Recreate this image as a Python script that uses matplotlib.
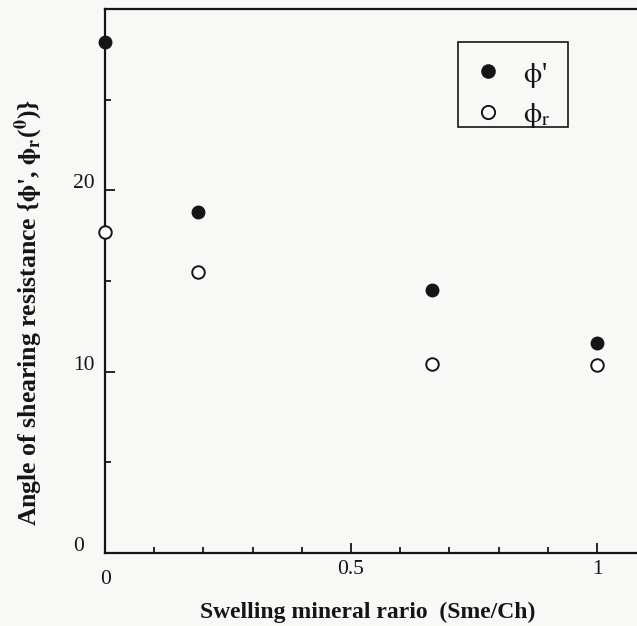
import matplotlib
matplotlib.use("Agg")
import matplotlib.pyplot as plt
from matplotlib.lines import Line2D
from matplotlib.patches import Rectangle
from matplotlib.ticker import MultipleLocator, FixedLocator
import matplotlib.transforms as mtransforms

# ---- data ----
ratio = [0.0, 0.19, 0.665, 1.0]          # Swelling mineral ratio (Sme/Ch)
phi_peak = [28.2, 18.8, 14.5, 11.6]       # phi'  (filled)
phi_res = [17.7, 15.5, 10.4, 10.35]       # phi_r (open)
x_tick_vals = [0, 0.5, 1]
x_tick_labels = ["0", "0.5", "1"]
y_tick_vals = [0, 10, 20]
y_tick_labels = ["0", "10", "20"]
legend_labels = [r"$\mathrm{\phi}$'", r"$\mathrm{\phi}_{\mathrm{r}}$"]
xlabel = "Swelling mineral rario  (Sme/Ch)"
ylabel = (r"Angle of shearing resistance {$\mathbf{\phi}$', "
          r"$\mathbf{\phi}_{\mathbf{r}}$($^{\mathbf{0}}$)}")

plt.rcParams["font.family"] = ["Liberation Serif", "DejaVu Serif"]
plt.rcParams["mathtext.fontset"] = "stix"

W, H, DPI = 637, 626, 100
bg = "#f8f8f6"
ink = "#151515"
fig = plt.figure(figsize=(W / DPI, H / DPI), dpi=DPI, facecolor=bg)

ax_l, ax_r, ax_t, ax_b = 105, 637, 9, 553
ax = fig.add_axes([ax_l / W, 1 - ax_b / H, (ax_r - ax_l) / W, (ax_b - ax_t) / H])
ax.set_facecolor("none")

ax.plot(ratio, phi_peak, linestyle="none", marker="o", ms=9, mfc=ink, mec=ink,
        mew=1.0, clip_on=False, zorder=3)
ax.plot(ratio, phi_res, linestyle="none", marker="o", ms=9, mfc="white", mec=ink,
        mew=1.4, clip_on=False, zorder=3)

ax.set_xlim(0, (ax_r - ax_l) / 492.0)
ax.set_ylim(0, 30)

for s in ["left", "bottom", "top"]:
    ax.spines[s].set_linewidth(1.6)
    ax.spines[s].set_color(ink)
ax.spines["right"].set_visible(False)

ax.xaxis.set_major_locator(FixedLocator(x_tick_vals))
ax.set_xticklabels(x_tick_labels)
ax.xaxis.set_minor_locator(MultipleLocator(0.1))
ax.yaxis.set_major_locator(FixedLocator(y_tick_vals))
ax.set_yticklabels(y_tick_labels)
ax.yaxis.set_minor_locator(MultipleLocator(5))

ax.tick_params(axis="both", which="major", direction="in", length=7, width=1.3,
               labelsize=15.5, colors=ink)
ax.tick_params(axis="both", which="minor", direction="in", length=4, width=1.3,
               colors=ink)
ax.tick_params(axis="x", which="major", pad=5)
ax.tick_params(axis="y", which="major", pad=32 * 72 / DPI)
ax.tick_params(top=False, right=False, which="both")

# y tick labels: left-aligned, sitting a little above their ticks
up = mtransforms.ScaledTranslation(0, 9 / DPI, fig.dpi_scale_trans)
for lab in ax.get_yticklabels():
    lab.set_horizontalalignment("left")
    lab.set_transform(lab.get_transform() + up)
# x "0" label lowered to clear the y "0"
down = mtransforms.ScaledTranslation(1 / DPI, -10 / DPI, fig.dpi_scale_trans)
ax.get_xticklabels()[0].set_transform(ax.get_xticklabels()[0].get_transform() + down)

fig.text(368 / W, 1 - 612 / H, xlabel, ha="center", va="center",
         fontsize=17, fontweight="bold", color=ink)
fig.text(29 / W, 1 - 312 / H, ylabel, ha="center", va="center", rotation=90,
         fontsize=18.5, fontweight="bold", color=ink)

handles = [
    Line2D([], [], linestyle="none", marker="o", ms=9.5, mfc=ink, mec=ink, mew=1.0),
    Line2D([], [], linestyle="none", marker="o", ms=9.5, mfc="white", mec=ink, mew=1.4),
]
leg = ax.legend(handles, legend_labels, loc="upper left",
                bbox_to_anchor=(459 / W, 1 - 46 / H), bbox_transform=fig.transFigure,
                fontsize=21, frameon=False, borderpad=0.5, labelspacing=0.4,
                handlelength=1.0, handletextpad=0.7, borderaxespad=0)
for t in leg.get_texts():
    t.set_color(ink)

# legend frame drawn as a plain rectangle (box sits asymmetrically around the rows)
box_l, box_r, box_t, box_b = 458, 568, 42, 127
fig.patches.append(Rectangle((box_l / W, 1 - box_b / H), (box_r - box_l) / W,
                             (box_b - box_t) / H, transform=fig.transFigure,
                             facecolor="none", edgecolor=ink, linewidth=1.2))

fig.savefig("out.png", dpi=DPI, facecolor=bg)
